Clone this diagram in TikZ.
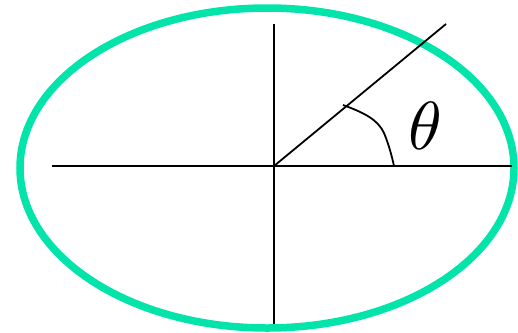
\documentclass[tikz,border=0pt]{standalone}
\definecolor{ellgreen}{RGB}{2,228,170}
\begin{document}
\begin{tikzpicture}[x=1pt,y=-1pt,
  axisline/.style={line width=2.2pt,black},
  thinline/.style={line width=1.8pt,black}]
\useasboundingbox (0,0) rectangle (518,332);
\coordinate (O) at (274,166);
\coordinate (L) at (52,166);
\coordinate (R) at (512,166);
\coordinate (T) at (274,24);
\coordinate (B) at (274,324);
\coordinate (D) at (446,24);
\coordinate (A1) at (343,105);
\coordinate (A2) at (394,166);
\draw[ellgreen, line width=7.5pt] (267,168) ellipse [x radius=247, y radius=160];
\draw[axisline] (L) -- (R);
\draw[axisline] (T) -- (B);
\draw[thinline] (O) -- (D);
\draw[thinline] (A1) .. controls (365,113) and (378,120) .. (384,133) .. controls (389,145) and (392,157) .. (A2);
\node[inner sep=0pt, scale=6.8] (theta) at (425,126) {$\theta$};
\end{tikzpicture}
\end{document}
